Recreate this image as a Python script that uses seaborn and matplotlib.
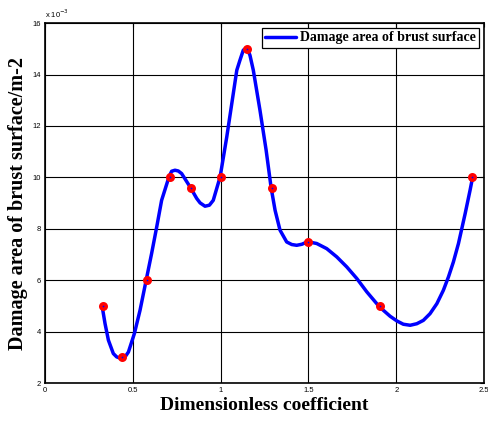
import matplotlib
matplotlib.use("Agg")
import matplotlib.pyplot as plt
import seaborn as sns

# measured points (damage area in units of 1e-3)
point_x = [0.33, 0.44, 0.58, 0.71, 0.83, 1.00, 1.15, 1.29, 1.50, 1.91, 2.43]
point_y = [5.0, 3.0, 6.0, 10.0, 9.6, 10.0, 15.0, 9.6, 7.5, 5.0, 10.0]

# fitted curve
curve_x = [0.326, 0.342, 0.361, 0.389, 0.408, 0.437, 0.456, 0.475, 0.509, 0.541,
           0.575, 0.607, 0.636, 0.664, 0.706, 0.721, 0.740, 0.759, 0.778, 0.826,
           0.864, 0.883, 0.911, 0.936, 0.958, 0.997, 1.035, 1.072, 1.092, 1.110,
           1.129, 1.149, 1.167, 1.186, 1.224, 1.259, 1.287, 1.310, 1.338, 1.376,
           1.405, 1.433, 1.462, 1.496, 1.547, 1.604, 1.661, 1.718, 1.775, 1.832,
           1.905, 1.965, 2.003, 2.040, 2.079, 2.117, 2.154, 2.192, 2.231, 2.268,
           2.297, 2.325, 2.354, 2.392, 2.420, 2.435]
curve_y = [4.96, 4.31, 3.67, 3.15, 3.02, 2.95, 3.02, 3.21, 3.93, 4.83,
           5.97, 7.04, 8.07, 9.11, 10.02, 10.24, 10.28, 10.25, 10.15, 9.63,
           9.18, 9.01, 8.88, 8.92, 9.11, 10.02, 11.58, 13.26, 14.17, 14.56,
           14.95, 15.05, 14.75, 14.17, 12.61, 11.06, 9.62, 8.72, 7.95, 7.49,
           7.39, 7.36, 7.40, 7.50, 7.43, 7.23, 6.91, 6.52, 6.07, 5.55,
           4.96, 4.60, 4.42, 4.29, 4.25, 4.31, 4.44, 4.70, 5.09, 5.61,
           6.13, 6.71, 7.43, 8.59, 9.50, 10.02]

x_ticks = [0, 0.5, 1, 1.5, 2, 2.5]
y_ticks = [2, 4, 6, 8, 10, 12, 14, 16]

sns.set_style("white")
plt.rcParams["font.family"] = ["Liberation Sans", "DejaVu Sans"]
plt.rcParams["text.color"] = "black"
plt.rcParams["axes.labelcolor"] = "black"

fig = plt.figure(figsize=(4.89, 4.21), dpi=100)
ax = fig.add_axes([0.092, 0.090, 0.898, 0.855])

sns.lineplot(x=curve_x, y=curve_y, sort=False, color="#0000ff", linewidth=2.5,
             label="Damage area of brust surface", ax=ax, zorder=3)
sns.scatterplot(x=point_x, y=point_y, color="#ff0000", s=42, edgecolor="#ff0000",
                linewidth=0, ax=ax, zorder=4, legend=False)
sns.scatterplot(x=point_x, y=point_y, color="#0000ff", s=1.5, linewidth=0,
                ax=ax, zorder=5, legend=False)

ax.set_xlim(0, 2.5)
ax.set_ylim(2, 16)
ax.set_xticks(x_ticks)
ax.set_xticklabels([f"{t:g}" for t in x_ticks])
ax.set_yticks(y_ticks)
ax.grid(True, color="black", linewidth=0.8, linestyle="-")
ax.set_axisbelow(True)
for sp in ax.spines.values():
    sp.set_color("black")
    sp.set_linewidth(1.2)
ax.tick_params(direction="in", length=3, width=0.8, labelsize=5.5, pad=3,
               top=True, right=True, colors="black")

ax.text(0, 1.008, r"x 10$^{-3}$", transform=ax.transAxes, fontsize=5.5,
        ha="left", va="bottom")

serif = ["Liberation Serif", "DejaVu Serif"]
ax.set_xlabel("Dimensionless coefficient", fontsize=14, fontweight="bold",
              family=serif, labelpad=2)
ax.set_ylabel("Damage area of brust surface/m-2", fontsize=14.5, fontweight="bold",
              family=serif, labelpad=3)

leg = ax.legend(loc="upper right", prop={"family": serif, "weight": "bold", "size": 10},
                frameon=True, fancybox=False, framealpha=1, borderaxespad=0.35,
                handlelength=2.2, borderpad=0.25, handletextpad=0.3)
leg.get_frame().set_edgecolor("black")
leg.get_frame().set_linewidth(0.9)

fig.savefig("out.png", dpi=100)
